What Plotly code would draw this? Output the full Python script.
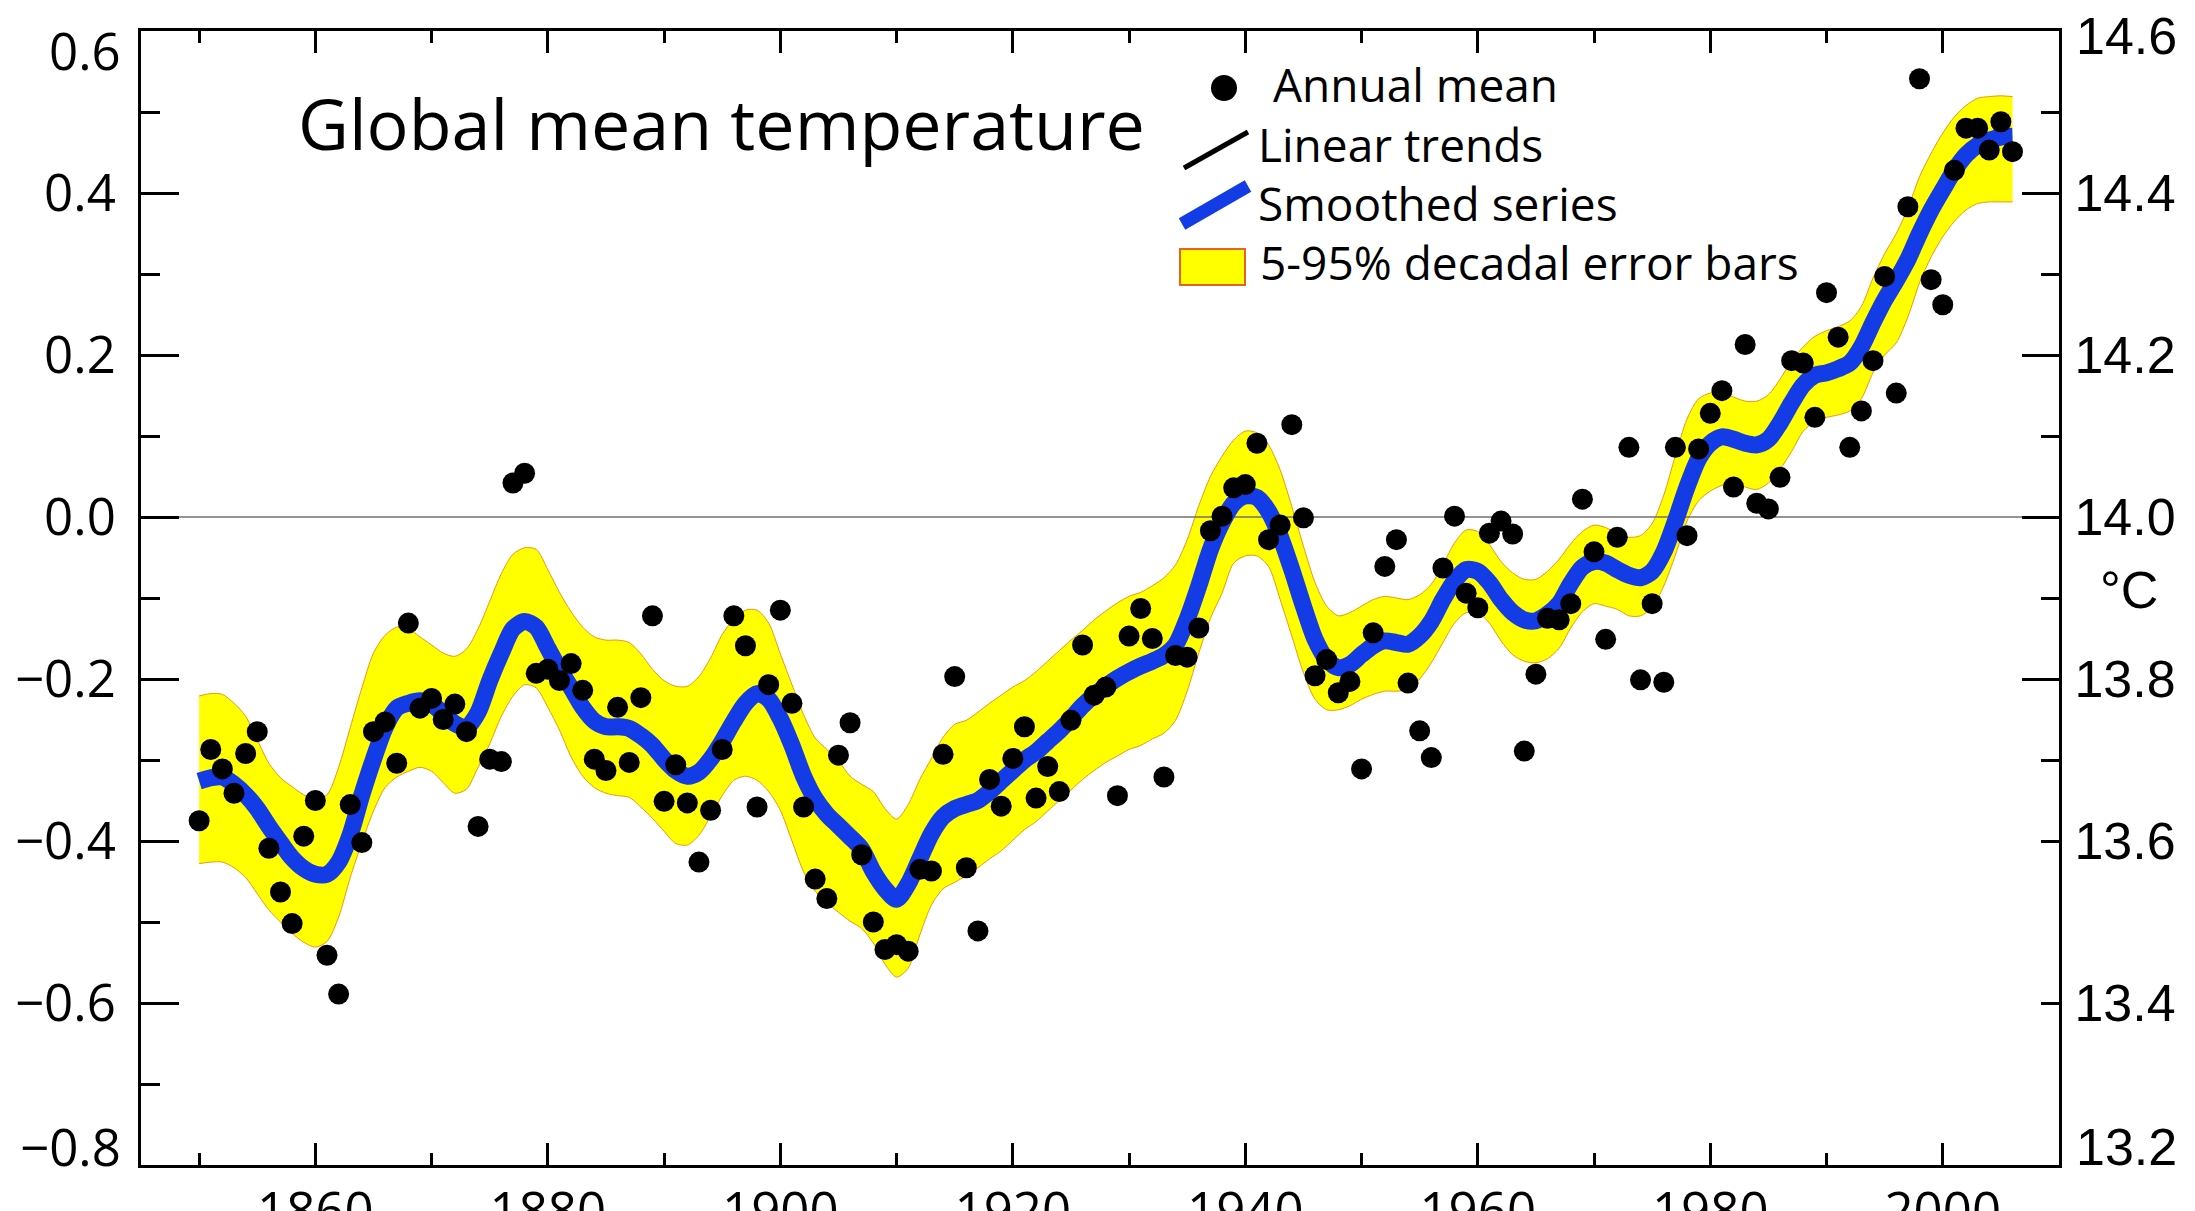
import plotly.graph_objects as go

# ---------------------------------------------------------------------------
# Data: global annual mean temperature anomaly (°C, relative to 1961-1990),
# decadal smoothed series and its 5-95% uncertainty band.
# ---------------------------------------------------------------------------
YEAR_START = 1850
YEAR_END = 2006
years = list(range(YEAR_START, YEAR_END + 1))

annual_mean = [
    -0.375, -0.287, -0.311, -0.341, -0.292, -0.265, -0.409, -0.463, -0.502, -0.394,   # 1850s
    -0.350, -0.541, -0.589, -0.355, -0.402, -0.265, -0.253, -0.304, -0.131, -0.236,   # 1860s
    -0.224, -0.250, -0.231, -0.265, -0.382, -0.299, -0.302, 0.042, 0.054, -0.193,     # 1870s
    -0.188, -0.202, -0.181, -0.214, -0.299, -0.313, -0.235, -0.303, -0.223, -0.122,   # 1880s
    -0.351, -0.306, -0.353, -0.426, -0.362, -0.287, -0.122, -0.159, -0.358, -0.207,   # 1890s
    -0.115, -0.230, -0.358, -0.447, -0.471, -0.294, -0.254, -0.417, -0.500, -0.534,   # 1900s
    -0.528, -0.536, -0.435, -0.437, -0.293, -0.197, -0.433, -0.511, -0.324, -0.357,   # 1910s
    -0.298, -0.259, -0.347, -0.308, -0.339, -0.251, -0.158, -0.220, -0.210, -0.344,   # 1920s
    -0.147, -0.113, -0.150, -0.321, -0.171, -0.173, -0.137, -0.017, 0.001, 0.036,     # 1930s
    0.040, 0.091, -0.028, -0.010, 0.114, -0.001, -0.196, -0.176, -0.217, -0.203,      # 1940s
    -0.311, -0.143, -0.061, -0.028, -0.205, -0.264, -0.297, -0.063, 0.001, -0.094,    # 1950s
    -0.112, -0.020, -0.005, -0.021, -0.289, -0.194, -0.125, -0.127, -0.107, 0.022,    # 1960s
    -0.043, -0.151, -0.025, 0.086, -0.201, -0.107, -0.204, 0.086, -0.023, 0.084,      # 1970s
    0.128, 0.156, 0.037, 0.213, 0.017, 0.010, 0.049, 0.193, 0.190, 0.123,             # 1980s
    0.277, 0.222, 0.086, 0.131, 0.193, 0.297, 0.153, 0.383, 0.541, 0.293,             # 1990s
    0.262, 0.428, 0.480, 0.480, 0.453, 0.488, 0.451,                                  # 2000s
]

smoothed = [
    -0.326, -0.322, -0.321, -0.330, -0.343, -0.360, -0.382, -0.402, -0.421, -0.434,
    -0.441, -0.441, -0.426, -0.392, -0.343, -0.299, -0.260, -0.236, -0.230, -0.227,
    -0.231, -0.243, -0.255, -0.260, -0.241, -0.202, -0.168, -0.138, -0.129, -0.136,
    -0.162, -0.188, -0.211, -0.235, -0.252, -0.259, -0.259, -0.261, -0.270, -0.282,
    -0.299, -0.313, -0.320, -0.315, -0.299, -0.277, -0.252, -0.230, -0.218, -0.225,
    -0.249, -0.282, -0.320, -0.348, -0.367, -0.381, -0.395, -0.410, -0.438, -0.459,
    -0.472, -0.453, -0.422, -0.391, -0.370, -0.360, -0.355, -0.350, -0.339, -0.326,
    -0.313, -0.300, -0.290, -0.277, -0.264, -0.249, -0.233, -0.220, -0.209, -0.199,
    -0.191, -0.184, -0.178, -0.171, -0.158, -0.126, -0.085, -0.040, -0.007, 0.017,
    0.026, 0.024, 0.007, -0.024, -0.065, -0.110, -0.151, -0.176, -0.186, -0.182,
    -0.170, -0.159, -0.153, -0.155, -0.157, -0.147, -0.129, -0.102, -0.079, -0.065,
    -0.067, -0.081, -0.102, -0.118, -0.127, -0.128, -0.120, -0.107, -0.082, -0.062,
    -0.055, -0.057, -0.065, -0.072, -0.075, -0.067, -0.043, -0.005, 0.037, 0.072,
    0.091, 0.099, 0.096, 0.091, 0.089, 0.096, 0.116, 0.141, 0.163, 0.175,
    0.178, 0.183, 0.190, 0.210, 0.240, 0.268, 0.292, 0.318, 0.350, 0.379,
    0.404, 0.428, 0.447, 0.459, 0.465, 0.469, 0.470,
]

band_upper = [
    -0.221, -0.218, -0.219, -0.230, -0.246, -0.275, -0.304, -0.322, -0.333, -0.343,
    -0.348, -0.343, -0.309, -0.260, -0.211, -0.168, -0.146, -0.136, -0.138, -0.148,
    -0.158, -0.168, -0.172, -0.163, -0.138, -0.104, -0.070, -0.046, -0.038, -0.040,
    -0.065, -0.093, -0.117, -0.136, -0.148, -0.152, -0.152, -0.155, -0.169, -0.188,
    -0.202, -0.209, -0.209, -0.197, -0.174, -0.145, -0.126, -0.115, -0.115, -0.131,
    -0.169, -0.207, -0.244, -0.273, -0.287, -0.301, -0.320, -0.330, -0.339, -0.360,
    -0.373, -0.355, -0.324, -0.298, -0.272, -0.256, -0.251, -0.241, -0.230, -0.220,
    -0.210, -0.202, -0.191, -0.178, -0.165, -0.152, -0.140, -0.127, -0.116, -0.106,
    -0.098, -0.093, -0.085, -0.075, -0.059, -0.028, 0.014, 0.050, 0.075, 0.095,
    0.106, 0.104, 0.089, 0.058, 0.013, -0.036, -0.081, -0.110, -0.122, -0.118,
    -0.110, -0.102, -0.098, -0.100, -0.102, -0.096, -0.083, -0.059, -0.032, -0.016,
    -0.018, -0.034, -0.055, -0.069, -0.077, -0.077, -0.067, -0.052, -0.033, -0.018,
    -0.010, -0.013, -0.020, -0.025, -0.023, -0.008, 0.027, 0.076, 0.121, 0.146,
    0.153, 0.153, 0.148, 0.143, 0.143, 0.151, 0.170, 0.193, 0.210, 0.223,
    0.230, 0.235, 0.242, 0.260, 0.295, 0.325, 0.350, 0.381, 0.420, 0.449,
    0.474, 0.494, 0.508, 0.517, 0.519, 0.520, 0.519,
]

band_lower = [
    -0.428, -0.426, -0.426, -0.433, -0.445, -0.465, -0.485, -0.500, -0.514, -0.525,
    -0.531, -0.524, -0.494, -0.445, -0.402, -0.363, -0.334, -0.321, -0.314, -0.309,
    -0.314, -0.328, -0.341, -0.336, -0.309, -0.280, -0.246, -0.221, -0.207, -0.211,
    -0.235, -0.263, -0.296, -0.320, -0.334, -0.341, -0.344, -0.346, -0.358, -0.372,
    -0.388, -0.403, -0.405, -0.393, -0.369, -0.344, -0.325, -0.320, -0.325, -0.339,
    -0.362, -0.400, -0.438, -0.462, -0.476, -0.488, -0.499, -0.508, -0.526, -0.552,
    -0.568, -0.557, -0.516, -0.479, -0.459, -0.451, -0.443, -0.433, -0.422, -0.412,
    -0.399, -0.386, -0.376, -0.363, -0.350, -0.337, -0.324, -0.313, -0.303, -0.295,
    -0.287, -0.282, -0.274, -0.267, -0.251, -0.215, -0.168, -0.125, -0.094, -0.057,
    -0.048, -0.048, -0.061, -0.102, -0.147, -0.192, -0.225, -0.238, -0.238, -0.233,
    -0.225, -0.219, -0.215, -0.215, -0.213, -0.200, -0.180, -0.155, -0.131, -0.118,
    -0.118, -0.131, -0.153, -0.170, -0.178, -0.180, -0.175, -0.162, -0.137, -0.117,
    -0.107, -0.110, -0.114, -0.122, -0.122, -0.112, -0.085, -0.047, -0.005, 0.020,
    0.032, 0.039, 0.042, 0.037, 0.034, 0.042, 0.059, 0.081, 0.106, 0.118,
    0.123, 0.126, 0.131, 0.146, 0.178, 0.200, 0.215, 0.247, 0.289, 0.321,
    0.346, 0.365, 0.379, 0.387, 0.389, 0.389, 0.389,
]

# Axis settings
X_RANGE = [1845, 2010]
X_MAJOR = list(range(1860, 2001, 20))
X_MINOR = list(range(1850, 2010, 10))
ANOM_RANGE = [-0.8, 0.6]
ANOM_TICKS = [-0.8, -0.6, -0.4, -0.2, 0.0, 0.2, 0.4, 0.6]
ANOM_MINOR = [-0.7, -0.5, -0.3, -0.1, 0.1, 0.3, 0.5]
ABS_RANGE = [13.2, 14.6]
ABS_TICKS = [13.2, 13.4, 13.6, 13.8, 14.0, 14.2, 14.4, 14.6]
ABS_LONG_TICKS = [13.8, 14.0, 14.2, 14.4]
ABS_MINOR = [13.7, 13.9, 14.1, 14.3, 14.5]

# Figure geometry (pixels)
W, H = 2195, 1211
M_L, M_R, M_T, M_B = 141, 136, 31, 46
PLOT_W = W - M_L - M_R
PLOT_H = H - M_T - M_B


def px(xp):
    return (xp - M_L) / PLOT_W


def py(yp):
    return (H - M_B - yp) / PLOT_H


BLUE = "#143CE6"
YELLOW = "#FFFF00"
BAND_EDGE = "rgb(235,150,20)"
LABEL_FONT = "Open Sans"
RIGHT_FONT = "Liberation Sans"
LEFT_TICK_FONT = dict(family=LABEL_FONT, size=51, color="black")
RIGHT_TICK_FONT = dict(family=RIGHT_FONT, size=52, color="black")


def fmt_anom(v):
    s = f"{abs(v):.1f}"
    return ("\u2212" + s) if v < 0 else s


# the labels at both ends of the vertical axes are set slightly inside the frame
left_text = [fmt_anom(v) for v in ANOM_TICKS]
right_text = [f"{v:.1f}" for v in ABS_TICKS]
left_end_labels = [(left_text[-1], 50), (left_text[0], 1146)]
right_end_labels = [(right_text[-1], 36), (right_text[0], 1147)]
left_text[0] = left_text[-1] = ""
right_text[0] = right_text[-1] = ""

fig = go.Figure()

# 5-95% band
fig.add_trace(go.Scatter(
    x=years, y=band_lower, mode="lines",
    line=dict(color=BAND_EDGE, width=1, shape="spline", smoothing=0.8),
    hoverinfo="skip", showlegend=False,
))
fig.add_trace(go.Scatter(
    x=years, y=band_upper, mode="lines", fill="tonexty", fillcolor=YELLOW,
    line=dict(color=BAND_EDGE, width=1, shape="spline", smoothing=0.8),
    hoverinfo="skip", showlegend=False,
))

# zero reference line
fig.add_trace(go.Scatter(
    x=X_RANGE, y=[0, 0], mode="lines",
    line=dict(color="#707070", width=1.5),
    hoverinfo="skip", showlegend=False,
))

# smoothed series
fig.add_trace(go.Scatter(
    x=years, y=smoothed, mode="lines",
    line=dict(color=BLUE, width=17, shape="spline", smoothing=0.8),
    showlegend=False,
))

# annual means
fig.add_trace(go.Scatter(
    x=years, y=annual_mean, mode="markers",
    marker=dict(color="black", size=21, line=dict(width=0)),
    showlegend=False,
))

# invisible traces that attach the right-hand absolute-temperature axes
fig.add_trace(go.Scatter(x=X_RANGE, y=ABS_RANGE, yaxis="y2", mode="markers",
                         marker=dict(opacity=0), hoverinfo="skip", showlegend=False))
fig.add_trace(go.Scatter(x=X_RANGE, y=ABS_RANGE, yaxis="y3", mode="markers",
                         marker=dict(opacity=0), hoverinfo="skip", showlegend=False))

fig.update_layout(
    width=W, height=H,
    margin=dict(l=M_L, r=M_R, t=M_T, b=M_B, pad=0, autoexpand=False),
    paper_bgcolor="white", plot_bgcolor="white",
    showlegend=False,
    xaxis=dict(
        range=X_RANGE, showgrid=False, zeroline=False, automargin=False,
        showline=True, linecolor="black", linewidth=3, mirror="ticks",
        ticks="inside", ticklen=22, tickwidth=3, tickcolor="black",
        tickmode="array", tickvals=X_MAJOR, ticktext=[str(v) for v in X_MAJOR],
        minor=dict(tickmode="array", tickvals=X_MINOR, ticks="inside",
                   ticklen=12, tickwidth=3, tickcolor="black", showgrid=False),
        tickfont=LEFT_TICK_FONT,
        ticklabelstandoff=0,
    ),
    yaxis=dict(
        range=ANOM_RANGE, showgrid=False, zeroline=False, automargin=False,
        showline=True, linecolor="black", linewidth=3,
        ticks="inside", ticklen=38, tickwidth=3, tickcolor="black",
        tickmode="array", tickvals=ANOM_TICKS, ticktext=left_text,
        minor=dict(tickmode="array", tickvals=ANOM_MINOR, ticks="inside",
                   ticklen=19, tickwidth=3, tickcolor="black", showgrid=False),
        tickfont=LEFT_TICK_FONT,
        ticklabelstandoff=12,
    ),
    yaxis2=dict(
        range=ABS_RANGE, overlaying="y", side="right", anchor="x", automargin=False,
        showgrid=False, zeroline=False,
        showline=True, linecolor="black", linewidth=3,
        ticks="inside", ticklen=18, tickwidth=3, tickcolor="black",
        tickmode="array", tickvals=ABS_TICKS, ticktext=right_text,
        minor=dict(tickmode="array", tickvals=ABS_MINOR, ticks="inside",
                   ticklen=18, tickwidth=3, tickcolor="black", showgrid=False),
        tickfont=RIGHT_TICK_FONT,
        ticklabelstandoff=2,
    ),
    yaxis3=dict(
        range=ABS_RANGE, overlaying="y", side="right", anchor="x", automargin=False,
        showgrid=False, zeroline=False, showline=False,
        ticks="inside", ticklen=37, tickwidth=3, tickcolor="black",
        tickmode="array", tickvals=ABS_LONG_TICKS, showticklabels=False,
    ),
)

# end-of-axis labels
for txt, yp in left_end_labels:
    fig.add_annotation(x=px(123), y=py(yp), xref="paper", yref="paper", text=txt,
                       showarrow=False, xanchor="right", yanchor="middle",
                       font=LEFT_TICK_FONT)
for txt, yp in right_end_labels:
    fig.add_annotation(x=px(2074), y=py(yp), xref="paper", yref="paper", text=txt,
                       showarrow=False, xanchor="left", yanchor="middle",
                       font=RIGHT_TICK_FONT)

# Title inside the plotting area
fig.add_annotation(
    x=px(296), y=py(123), xref="paper", yref="paper",
    text="Global mean temperature", showarrow=False,
    xanchor="left", yanchor="middle",
    font=dict(family=LABEL_FONT, size=70, color="black"),
)

# Right-hand unit label
fig.add_annotation(
    x=px(2129), y=py(590), xref="paper", yref="paper",
    text="\u00b0C", showarrow=False, xanchor="center", yanchor="middle",
    font=RIGHT_TICK_FONT,
)

# Hand-drawn legend
LEG_FONT = dict(family=LABEL_FONT, size=46, color="black")
legend_rows = [
    ("Annual mean", 1271, 84),
    ("Linear trends", 1256, 144),
    ("Smoothed series", 1256, 203),
    ("5-95% decadal error bars", 1258, 262),
]
for label, xp, yp in legend_rows:
    fig.add_annotation(
        x=px(xp), y=py(yp), xref="paper", yref="paper", text=label,
        showarrow=False, xanchor="left", yanchor="middle", font=LEG_FONT,
    )

shapes = [
    dict(type="circle", xref="paper", yref="paper",
         x0=px(1211), x1=px(1237), y0=py(101), y1=py(75),
         fillcolor="black", line=dict(width=0)),
    dict(type="line", xref="paper", yref="paper",
         x0=px(1184), y0=py(168), x1=px(1248), y1=py(132),
         line=dict(color="black", width=5)),
    dict(type="line", xref="paper", yref="paper",
         x0=px(1182), y0=py(224), x1=px(1248), y1=py(186),
         line=dict(color=BLUE, width=13)),
    dict(type="rect", xref="paper", yref="paper",
         x0=px(1180), y0=py(285), x1=px(1245), y1=py(249),
         fillcolor=YELLOW, line=dict(color="#E8602C", width=2)),
]
fig.update_layout(shapes=shapes)

fig.write_html("out.html", include_plotlyjs=True, config={"displayModeBar": False})
